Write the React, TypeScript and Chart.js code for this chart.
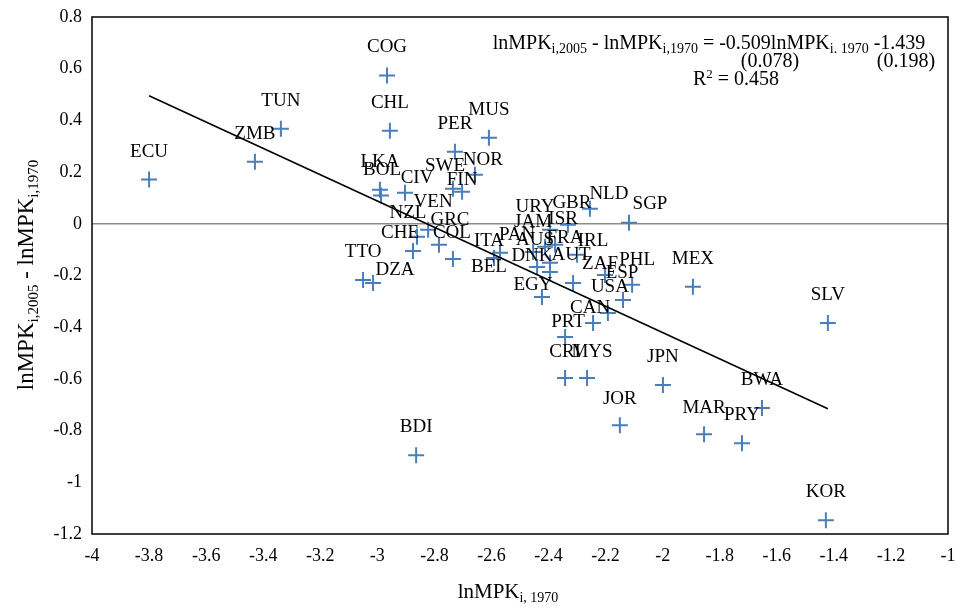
import { useEffect, useRef } from 'react';
import { Chart, registerables } from 'chart.js';

Chart.register(...registerables);

const SERIF = "'Liberation Serif', 'Times New Roman', serif";

// ---- data ----
const countries = [
  'ECU', 'ZMB', 'TUN', 'COG', 'CHL', 'LKA', 'BOL', 'CIV', 'PER', 'MUS',
  'NOR', 'SWE', 'FIN', 'VEN', 'NZL', 'GRC', 'CHE', 'COL', 'TTO', 'DZA',
  'BDI', 'ITA', 'BEL', 'NLD', 'SGP', 'GBR', 'URY', 'JAM', 'AUS', 'FRA',
  'DNK', 'PAN', 'ISR', 'IRL', 'AUT', 'ZAF', 'PHL', 'ESP', 'USA', 'CAN',
  'EGY', 'MEX', 'PRT', 'CRI', 'MYS', 'JPN', 'JOR', 'MAR', 'PRY', 'BWA',
  'SLV', 'KOR',
];
const lnMPK1970 = [
  -3.800, -3.429, -3.338, -2.966, -2.956, -2.991, -2.987, -2.903, -2.728, -2.609,
  -2.658, -2.735, -2.703, -2.822, -2.861, -2.784, -2.875, -2.735, -3.050, -3.015,
  -2.864, -2.570, -2.591, -2.255, -2.118, -2.332, -2.395, -2.454, -2.440, -2.395,
  -2.395, -2.412, -2.377, -2.300, -2.314, -2.202, -2.107, -2.139, -2.192, -2.244,
  -2.423, -1.894, -2.342, -2.342, -2.265, -1.999, -2.150, -1.855, -1.722, -1.652,
  -1.421, -1.428,
];
const lnMPKChange = [
  0.171, 0.240, 0.368, 0.574, 0.360, 0.132, 0.109, 0.120, 0.279, 0.333,
  0.190, 0.136, 0.124, -0.023, -0.050, -0.081, -0.105, -0.136, -0.217, -0.229,
  -0.895, -0.112, -0.132, 0.058, 0.004, -0.004, -0.023, -0.109, -0.167, -0.151,
  -0.186, -0.089, -0.081, -0.120, -0.229, -0.198, -0.236, -0.295, -0.345, -0.384,
  -0.283, -0.244, -0.438, -0.597, -0.597, -0.624, -0.779, -0.814, -0.849, -0.713,
  -0.384, -1.147,
];
const trendSlope = -0.509;
const trendIntercept = -1.439;
const slopeSE = '(0.078)';
const interceptSE = '(0.198)';
const rSquared = '0.458';

const xTickMin = -4;
const xTickMax = -1;
const yTickMin = -1.2;
const yTickMax = 0.8;
const tickStep = 0.2;

// label nudges in pixels relative to the marker (default: centred, 28px above)
const labelNudge: Record<string, [number, number]> = {
  BOL: [1, -26], CIV: [12, -15], SWE: [-8, -23], FIN: [0, -12], NOR: [8, -15],
  VEN: [5, -28], NZL: [-9, -24], GRC: [11, -25], CHE: [-13, -18], COL: [-1, -26],
  DZA: [22, -13], ITA: [-11, -12], BEL: [-5, 9], URY: [-15, -23], GBR: [4, -22],
  NLD: [19, -15], SGP: [21, -19], JAM: [0, -30], ISR: [8, -26], PAN: [-28, -12],
  AUS: [-2, -27], FRA: [15, -25], IRL: [16, -14], DNK: [-18, -16], AUT: [-2, -28],
  ZAF: [-5, -11], PHL: [5, -25], ESP: [-1, -27], USA: [2, -26], EGY: [-9, -12],
  CAN: [-3, -15], PRT: [3, -15], CRI: [0, -26], MYS: [5, -26], JOR: [0, -26],
  MAR: [0, -26],
};

type Seg = { t: string; s?: 'sub' | 'sup' };

function segFont(seg: Seg, size: number, small: number) {
  return `${seg.s ? small : size}px ${SERIF}`;
}
function richWidth(ctx: CanvasRenderingContext2D, segs: Seg[], size: number, small: number) {
  let w = 0;
  for (const s of segs) {
    ctx.font = segFont(s, size, small);
    w += ctx.measureText(s.t).width;
  }
  return w;
}
function drawRich(
  ctx: CanvasRenderingContext2D, segs: Seg[], x: number, y: number,
  size: number, small: number, align: 'left' | 'center' | 'right',
) {
  const w = richWidth(ctx, segs, size, small);
  let cx = align === 'center' ? x - w / 2 : align === 'right' ? x - w : x;
  ctx.textAlign = 'left';
  ctx.textBaseline = 'alphabetic';
  for (const s of segs) {
    ctx.font = segFont(s, size, small);
    const dy = s.s === 'sub' ? size * 0.2 : s.s === 'sup' ? -size * 0.35 : 0;
    ctx.fillText(s.t, cx, y + dy);
    cx += ctx.measureText(s.t).width;
  }
}

const overlayPlugin = {
  id: 'overlay',
  beforeDatasetsDraw(chart: any) {
    const { ctx, chartArea, scales } = chart;
    const y0 = scales.y.getPixelForValue(0);
    ctx.save();
    ctx.strokeStyle = '#8c8c8c';
    ctx.lineWidth = 1.5;
    ctx.beginPath();
    ctx.moveTo(chartArea.left, y0);
    ctx.lineTo(chartArea.right, y0);
    ctx.stroke();
    ctx.strokeStyle = '#000';
    ctx.lineWidth = 1.5;
    ctx.strokeRect(chartArea.left, chartArea.top, chartArea.right - chartArea.left, chartArea.bottom - chartArea.top);
    ctx.restore();
  },
  afterDatasetsDraw(chart: any) {
    const { ctx, scales } = chart;
    ctx.save();
    ctx.fillStyle = '#000';
    ctx.font = `19px ${SERIF}`;
    ctx.textAlign = 'center';
    ctx.textBaseline = 'middle';
    countries.forEach((c, i) => {
      const px = scales.x.getPixelForValue(lnMPK1970[i]);
      const py = scales.y.getPixelForValue(lnMPKChange[i]);
      const [dx, dy] = labelNudge[c] ?? [0, -28];
      ctx.fillText(c, px + dx, py + dy);
    });

    // regression equation
    const eq: Seg[] = [
      { t: 'lnMPK' }, { t: 'i,2005', s: 'sub' }, { t: ' - lnMPK' }, { t: 'i,1970', s: 'sub' },
      { t: ' = ' + trendSlope.toFixed(3) + 'lnMPK' }, { t: 'i. 1970', s: 'sub' }, { t: ' ' + trendIntercept.toFixed(3) },
    ];
    drawRich(ctx, eq, 709, 49, 20, 14, 'center');
    drawRich(ctx, [{ t: slopeSE }], 770, 67, 20, 14, 'center');
    drawRich(ctx, [{ t: interceptSE }], 906, 67, 20, 14, 'center');
    drawRich(ctx, [{ t: 'R' }, { t: '2', s: 'sup' }, { t: ' = ' + rSquared }], 736, 85, 20, 13, 'center');

    // axis titles
    drawRich(ctx, [{ t: 'lnMPK' }, { t: 'i, 1970', s: 'sub' }], 508, 598, 21, 14, 'center');
    ctx.translate(33, 275);
    ctx.rotate(-Math.PI / 2);
    drawRich(ctx, [{ t: 'lnMPK' }, { t: 'i,2005', s: 'sub' }, { t: ' - lnMPK' }, { t: 'i,1970', s: 'sub' }], 0, 0, 23, 15, 'center');
    ctx.restore();
  },
};

export default function App() {
  const ref = useRef<HTMLCanvasElement>(null);
  useEffect(() => {
    document.body.style.margin = '0';
    const xMin = Math.min(...lnMPK1970);
    const xMax = Math.max(...lnMPK1970);
    const chart = new Chart(ref.current!, {
      type: 'scatter',
      data: {
        datasets: [
          {
            type: 'line',
            data: [
              { x: xMin, y: trendSlope * xMin + trendIntercept },
              { x: xMax, y: trendSlope * xMax + trendIntercept },
            ],
            borderColor: '#000',
            borderWidth: 1.6,
            pointRadius: 0,
            fill: false,
          } as any,
          {
            data: lnMPK1970.map((x, i) => ({ x, y: lnMPKChange[i] })),
            pointStyle: 'cross',
            pointRadius: 8,
            pointHoverRadius: 8,
            borderColor: '#4a7ebb',
            backgroundColor: '#4a7ebb',
            borderWidth: 2,
          },
        ],
      },
      options: {
        responsive: false,
        animation: false,
        events: [],
        layout: { padding: { top: 17, right: 12, left: 0, bottom: 0 } },
        plugins: { legend: { display: false }, tooltip: { enabled: false } },
        scales: {
          x: {
            type: 'linear',
            min: xTickMin,
            max: xTickMax,
            afterFit: (s: any) => { s.height = 74; s.paddingLeft = 0; s.paddingRight = 0; },
            grid: { display: false, drawTicks: false },
            border: { display: false },
            ticks: {
              stepSize: tickStep,
              padding: 11,
              color: '#000',
              font: { family: SERIF, size: 18 },
              maxRotation: 0,
              autoSkip: false,
              callback: (v: any) => String(Number(Number(v).toFixed(1))),
            },
          },
          y: {
            type: 'linear',
            min: yTickMin,
            max: yTickMax,
            afterFit: (s: any) => { s.width = 92; s.paddingTop = 0; s.paddingBottom = 0; },
            grid: { display: false, drawTicks: false },
            border: { display: false },
            ticks: {
              stepSize: tickStep,
              padding: 10,
              color: '#000',
              font: { family: SERIF, size: 18 },
              autoSkip: false,
              callback: (v: any) => String(Number(Number(v).toFixed(1))),
            },
          },
        },
      },
      plugins: [overlayPlugin],
    });
    return () => chart.destroy();
  }, []);
  return <canvas ref={ref} width={960} height={608} style={{ display: 'block' }} />;
}
